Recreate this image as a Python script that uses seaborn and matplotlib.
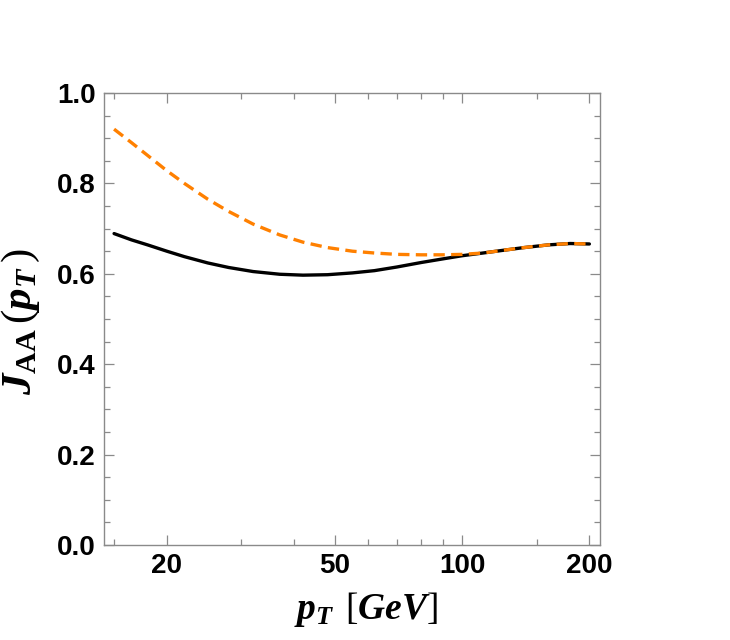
import numpy as np
import pandas as pd
import seaborn as sns
import matplotlib
matplotlib.use('Agg')
import matplotlib.pyplot as plt
from matplotlib.ticker import FixedLocator, NullFormatter

# values
pt = [15, 16.5, 18, 20, 22, 25, 28, 32, 37, 42, 48, 55, 62, 70, 80, 90, 100, 112, 125, 140, 160, 180, 200]
jaa_solid = [0.689, 0.675, 0.664, 0.650, 0.638, 0.624, 0.614, 0.605, 0.599, 0.597, 0.598, 0.602,
             0.607, 0.615, 0.625, 0.633, 0.640, 0.646, 0.652, 0.658, 0.664, 0.667, 0.666]
jaa_dashed = [0.920, 0.890, 0.862, 0.828, 0.800, 0.765, 0.738, 0.710, 0.686, 0.670, 0.658, 0.650,
              0.646, 0.643, 0.642, 0.642, 0.643, 0.646, 0.652, 0.658, 0.664, 0.667, 0.666]
major_x = [20, 50, 100, 200]
minor_x = [15, 30, 40, 60, 70, 80, 90, 150]

sns.set_style('ticks')
plt.rcParams['font.family'] = ['Liberation Sans', 'DejaVu Sans']
plt.rcParams['mathtext.fontset'] = 'custom'
plt.rcParams['mathtext.it'] = 'Liberation Serif:italic:bold'
plt.rcParams['mathtext.rm'] = 'Liberation Serif'
plt.rcParams['mathtext.bf'] = 'Liberation Serif:bold'
plt.rcParams['text.color'] = 'black'
plt.rcParams['axes.labelcolor'] = 'black'

df = pd.DataFrame({'pt': pt, 'solid': jaa_solid, 'dashed': jaa_dashed})

fig = plt.figure(figsize=(7.3, 6.4), dpi=100)
ax = fig.add_axes([0.1425, 0.1484, 0.822 - 0.1425, 0.8547 - 0.1484])

sns.lineplot(data=df, x='pt', y='solid', color='black', linewidth=2.4, ax=ax)
sns.lineplot(data=df, x='pt', y='dashed', color='#FF8000', linewidth=2.4, ax=ax)
ax.lines[-1].set_dashes([3.4, 1.9])

ax.set_xscale('log')
ax.set_xlim(14.2, 212)
ax.set_ylim(0, 1)

ax.xaxis.set_major_locator(FixedLocator(major_x))
ax.xaxis.set_minor_locator(FixedLocator(minor_x))
ax.xaxis.set_minor_formatter(NullFormatter())
ax.set_xticklabels([str(v) for v in major_x])
ax.set_yticks(np.arange(0, 1.01, 0.2))
ax.set_yticklabels(['%.1f' % v for v in np.arange(0, 1.01, 0.2)])
ax.yaxis.set_minor_locator(FixedLocator(np.arange(0, 1.001, 0.05)))

for s in ax.spines.values():
    s.set_color('#8a8a8a')
    s.set_linewidth(1.0)

ax.tick_params(which='both', direction='in', top=True, right=True, color='#8a8a8a', width=0.9,
               labelcolor='black')
ax.tick_params(which='major', length=7, labelsize=20, pad=6)
ax.tick_params(which='minor', length=4)
for lab in ax.get_xticklabels() + ax.get_yticklabels():
    lab.set_fontweight('bold')

ax.set_xlabel(r'$p_T\;\,[GeV]$', fontsize=27)
ax.xaxis.set_label_coords(0.528, -0.1)
ax.set_ylabel(r'$J_{\mathbf{AA}}\,(p_T\,)$', fontsize=31)
ax.yaxis.set_label_coords(-0.125, 0.495)

fig.savefig('out.png', dpi=100)
